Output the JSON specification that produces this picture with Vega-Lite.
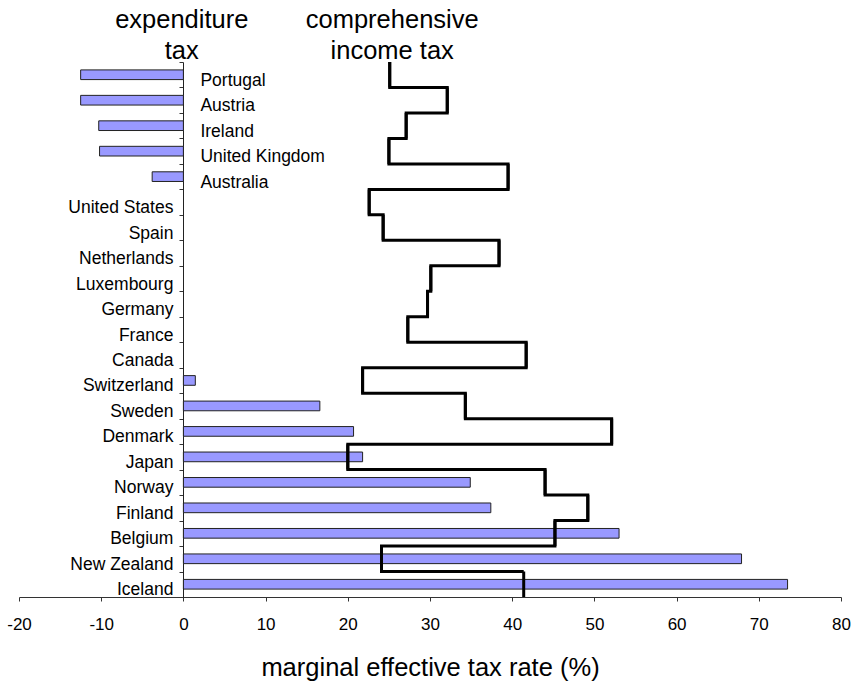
{
  "$schema": "https://vega.github.io/schema/vega-lite/v6.json",
  "width": 822,
  "height": 535,
  "autosize": {"type": "none"},
  "padding": {"left": 19, "top": 62, "right": 16, "bottom": 88},
  "background": "white",
  "config": {"view": {"stroke": null}, "font": "Liberation Sans"},
  "data": {
    "values": [
      {"country": "Portugal", "exp": -12.5, "inc": 25.1},
      {"country": "Austria", "exp": -12.5, "inc": 32.1},
      {"country": "Ireland", "exp": -10.3, "inc": 27.1},
      {"country": "United Kingdom", "exp": -10.2, "inc": 25.0},
      {"country": "Australia", "exp": -3.8, "inc": 39.5},
      {"country": "United States", "exp": null, "inc": 22.6},
      {"country": "Spain", "exp": null, "inc": 24.3},
      {"country": "Netherlands", "exp": null, "inc": 38.4},
      {"country": "Luxembourg", "exp": null, "inc": 30.1},
      {"country": "Germany", "exp": null, "inc": 29.7},
      {"country": "France", "exp": null, "inc": 27.3},
      {"country": "Canada", "exp": null, "inc": 41.7},
      {"country": "Switzerland", "exp": 1.45, "inc": 21.8},
      {"country": "Sweden", "exp": 16.6, "inc": 34.3},
      {"country": "Denmark", "exp": 20.7, "inc": 52.1},
      {"country": "Japan", "exp": 21.8, "inc": 20.0},
      {"country": "Norway", "exp": 34.9, "inc": 44.0},
      {"country": "Finland", "exp": 37.4, "inc": 49.2},
      {"country": "Belgium", "exp": 53.0, "inc": 45.2},
      {"country": "New Zealand", "exp": 67.9, "inc": 24.1},
      {"country": "Iceland", "exp": 73.5, "inc": 41.4}
    ]
  },
  "layer": [
    {
      "transform": [{"filter": "datum.exp != null"}],
      "mark": {"type": "bar", "color": "#9999FF", "stroke": "#222222", "strokeWidth": 1, "height": {"band": 0.38}},
      "encoding": {
        "x": {
          "field": "exp", "type": "quantitative",
          "scale": {"domain": [-20, 80], "nice": false, "zero": false},
          "axis": {
            "values": [-20, -10, 0, 10, 20, 30, 40, 50, 60, 70, 80],
            "labelExpr": "'' + datum.value",
            "title": "marginal effective tax rate (%)",
            "titleFontSize": 25.5, "titleFontWeight": "normal", "titleColor": "black",
            "titleFont": "Liberation Sans",
            "titleBaseline": "alphabetic", "titleY": 78,
            "labelFontSize": 17, "labelColor": "black", "labelPadding": 15, "labelFlush": false,
            "labelFont": "Liberation Sans",
            "tickSize": 4, "tickColor": "#333333", "domainColor": "#333333", "grid": false
          }
        },
        "y": {
          "field": "country", "type": "nominal", "sort": null,
          "scale": {
            "domain": ["Portugal", "Austria", "Ireland", "United Kingdom", "Australia", "United States", "Spain", "Netherlands", "Luxembourg", "Germany", "France", "Canada", "Switzerland", "Sweden", "Denmark", "Japan", "Norway", "Finland", "Belgium", "New Zealand", "Iceland"],
            "paddingInner": 0, "paddingOuter": 0
          },
          "axis": {
            "offset": -164, "labels": false, "title": null, "grid": false,
            "tickBand": "extent", "tickSize": 4, "tickColor": "#333333", "domainColor": "#222222"
          }
        }
      }
    },
    {
      "mark": {"type": "rect", "filled": false, "stroke": "black", "strokeWidth": 3},
      "encoding": {
        "x": {"field": "inc", "type": "quantitative"},
        "x2": {"field": "inc"},
        "y": {"field": "country", "type": "nominal", "sort": null}
      }
    },
    {
      "mark": {"type": "line", "interpolate": "step-before", "color": "black", "strokeWidth": 3},
      "encoding": {
        "x": {"field": "inc", "type": "quantitative"},
        "y": {"field": "country", "type": "nominal", "sort": null, "bandPosition": 0},
        "order": {"value": null}
      }
    },
    {
      "transform": [{"filter": "datum.exp < 0"}],
      "mark": {"type": "text", "align": "left", "baseline": "alphabetic", "dx": 17, "dy": 11, "fontSize": 17.5, "color": "black"},
      "encoding": {
        "x": {"datum": 0, "type": "quantitative"},
        "y": {"field": "country", "type": "nominal", "sort": null},
        "text": {"field": "country"}
      }
    },
    {
      "transform": [{"filter": "!(datum.exp < 0)"}],
      "mark": {"type": "text", "align": "right", "baseline": "alphabetic", "dx": -10, "dy": 11, "fontSize": 17.5, "color": "black"},
      "encoding": {
        "x": {"datum": 0, "type": "quantitative"},
        "y": {"field": "country", "type": "nominal", "sort": null},
        "text": {"field": "country"}
      }
    },
    {
      "data": {"values": [{}]},
      "mark": {"type": "text", "text": ["expenditure", "tax"], "align": "center", "baseline": "alphabetic", "lineHeight": 31, "fontSize": 25.5, "dy": -34, "color": "black"},
      "encoding": {
        "x": {"datum": -0.2, "type": "quantitative"},
        "y": {"datum": "Portugal", "type": "nominal", "bandPosition": 0}
      }
    },
    {
      "data": {"values": [{}]},
      "mark": {"type": "text", "text": ["comprehensive", "income tax"], "align": "center", "baseline": "alphabetic", "lineHeight": 31, "fontSize": 25.5, "dy": -34, "color": "black"},
      "encoding": {
        "x": {"datum": 25.4, "type": "quantitative"},
        "y": {"datum": "Portugal", "type": "nominal", "bandPosition": 0}
      }
    }
  ]
}
